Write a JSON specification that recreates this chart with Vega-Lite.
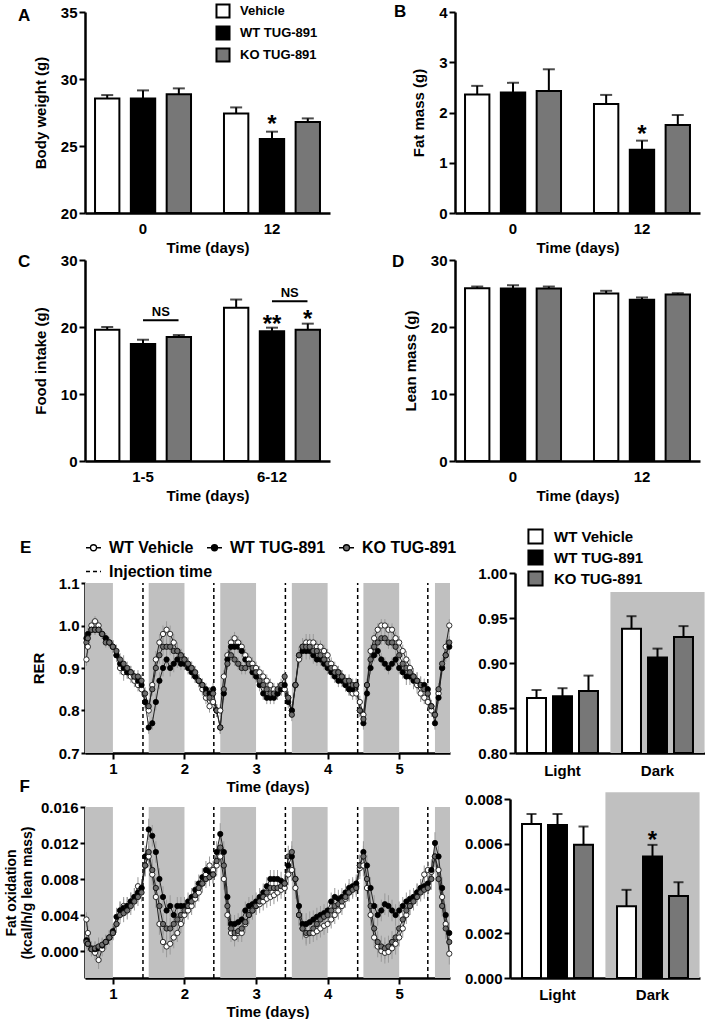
{
"$schema": "https://vega.github.io/schema/vega-lite/v6.json",
"background": "white",
"padding": {"left": 4, "top": 3, "right": 0, "bottom": 0},
"config": {
  "font": "Liberation Sans",
  "view": {"stroke": null},
  "axis": {"labelFontWeight": "bold", "titleFontWeight": "bold", "labelColor": "black", "titleColor": "black", "domainColor": "black", "tickColor": "black", "grid": false, "labelFontSize": 15, "titleFontSize": 15, "domainWidth": 2.5, "tickWidth": 2},
  "legend": {"labelFontWeight": "bold", "labelColor": "black", "padding": 0},
  "title": {"fontSize": 17, "fontWeight": "bold", "color": "black", "anchor": "start", "frame": "group"}
},
"datasets": {
  "A": [
    {"g": "0", "s": "Vehicle", "v": 28.55, "hi": 28.8},
    {"g": "0", "s": "WT TUG-891", "v": 28.55, "hi": 29.15},
    {"g": "0", "s": "KO TUG-891", "v": 28.87, "hi": 29.3},
    {"g": "12", "s": "Vehicle", "v": 27.43, "hi": 27.88},
    {"g": "12", "s": "WT TUG-891", "v": 25.52, "hi": 26.07},
    {"g": "12", "s": "KO TUG-891", "v": 26.8, "hi": 27.06}
  ],
  "B": [
    {"g": "0", "s": "Vehicle", "v": 2.36, "hi": 2.53},
    {"g": "0", "s": "WT TUG-891", "v": 2.4, "hi": 2.59},
    {"g": "0", "s": "KO TUG-891", "v": 2.43, "hi": 2.86},
    {"g": "12", "s": "Vehicle", "v": 2.17, "hi": 2.35},
    {"g": "12", "s": "WT TUG-891", "v": 1.26, "hi": 1.44},
    {"g": "12", "s": "KO TUG-891", "v": 1.75, "hi": 1.95}
  ],
  "C": [
    {"g": "1-5", "s": "Vehicle", "v": 19.6, "hi": 20.0},
    {"g": "1-5", "s": "WT TUG-891", "v": 17.47, "hi": 18.1},
    {"g": "1-5", "s": "KO TUG-891", "v": 18.5, "hi": 18.8},
    {"g": "6-12", "s": "Vehicle", "v": 22.86, "hi": 24.1},
    {"g": "6-12", "s": "WT TUG-891", "v": 19.37, "hi": 19.9},
    {"g": "6-12", "s": "KO TUG-891", "v": 19.6, "hi": 20.5}
  ],
  "D": [
    {"g": "0", "s": "Vehicle", "v": 25.79, "hi": 26.04},
    {"g": "0", "s": "WT TUG-891", "v": 25.74, "hi": 26.24},
    {"g": "0", "s": "KO TUG-891", "v": 25.74, "hi": 26.04},
    {"g": "12", "s": "Vehicle", "v": 25.0, "hi": 25.4},
    {"g": "12", "s": "WT TUG-891", "v": 24.06, "hi": 24.41},
    {"g": "12", "s": "KO TUG-891", "v": 24.85, "hi": 25.05}
  ],
  "Eb": [
    {"g": "Light", "s": "WT Vehicle", "v": 0.861, "hi": 0.870},
    {"g": "Light", "s": "WT TUG-891", "v": 0.863, "hi": 0.872},
    {"g": "Light", "s": "KO TUG-891", "v": 0.869, "hi": 0.886},
    {"g": "Dark", "s": "WT Vehicle", "v": 0.938, "hi": 0.952},
    {"g": "Dark", "s": "WT TUG-891", "v": 0.906, "hi": 0.916},
    {"g": "Dark", "s": "KO TUG-891", "v": 0.929, "hi": 0.941}
  ],
  "Fb": [
    {"g": "Light", "s": "WT Vehicle", "v": 0.00688, "hi": 0.00733},
    {"g": "Light", "s": "WT TUG-891", "v": 0.00684, "hi": 0.00733},
    {"g": "Light", "s": "KO TUG-891", "v": 0.00596, "hi": 0.00677},
    {"g": "Dark", "s": "WT Vehicle", "v": 0.00321, "hi": 0.00394},
    {"g": "Dark", "s": "WT TUG-891", "v": 0.00543, "hi": 0.00595},
    {"g": "Dark", "s": "KO TUG-891", "v": 0.00366, "hi": 0.00428}
  ],
  "bands": [
    {"x1": 0.61, "x2": 1.0}, {"x1": 1.5, "x2": 2.0}, {"x1": 2.5, "x2": 3.0},
    {"x1": 3.5, "x2": 4.0}, {"x1": 4.5, "x2": 5.0}, {"x1": 5.5, "x2": 5.71}
  ],
  "inj": [
    {"t": 1.42, "k": "Injection time"}, {"t": 2.41, "k": "Injection time"}, {"t": 3.41, "k": "Injection time"},
    {"t": 4.42, "k": "Injection time"}, {"t": 5.40, "k": "Injection time"}
  ],
  "rer": [
    {"t":0.63,"a":0.92,"b":0.97,"c":0.96,"e":0.015},
    {"t":0.65,"a":0.95,"b":0.98,"c":0.97,"e":0.015},
    {"t":0.70,"a":1.00,"b":0.99,"c":0.99,"e":0.012},
    {"t":0.75,"a":1.01,"b":0.99,"c":0.99,"e":0.012},
    {"t":0.80,"a":1.00,"b":0.99,"c":0.99,"e":0.012},
    {"t":0.85,"a":0.98,"b":0.98,"c":0.98,"e":0.012},
    {"t":0.90,"a":0.97,"b":0.97,"c":0.96,"e":0.012},
    {"t":0.95,"a":0.96,"b":0.96,"c":0.96,"e":0.012},
    {"t":1.00,"a":0.95,"b":0.95,"c":0.95,"e":0.015},
    {"t":1.05,"a":0.93,"b":0.93,"c":0.94,"e":0.015},
    {"t":1.10,"a":0.90,"b":0.91,"c":0.92,"e":0.015},
    {"t":1.15,"a":0.89,"b":0.90,"c":0.91,"e":0.02},
    {"t":1.20,"a":0.89,"b":0.89,"c":0.90,"e":0.015},
    {"t":1.25,"a":0.88,"b":0.89,"c":0.89,"e":0.015},
    {"t":1.30,"a":0.87,"b":0.88,"c":0.88,"e":0.015},
    {"t":1.35,"a":0.86,"b":0.87,"c":0.88,"e":0.015},
    {"t":1.40,"a":0.85,"b":0.86,"c":0.87,"e":0.015},
    {"t":1.45,"a":0.82,"b":0.82,"c":0.84,"e":0.015},
    {"t":1.50,"a":0.80,"b":0.76,"c":0.81,"e":0.015},
    {"t":1.55,"a":0.86,"b":0.77,"c":0.85,"e":0.015},
    {"t":1.60,"a":0.92,"b":0.82,"c":0.90,"e":0.02},
    {"t":1.65,"a":0.96,"b":0.87,"c":0.93,"e":0.02},
    {"t":1.70,"a":0.98,"b":0.90,"c":0.95,"e":0.02},
    {"t":1.75,"a":0.99,"b":0.92,"c":0.95,"e":0.02},
    {"t":1.80,"a":0.98,"b":0.90,"c":0.95,"e":0.02},
    {"t":1.85,"a":0.96,"b":0.91,"c":0.94,"e":0.02},
    {"t":1.90,"a":0.94,"b":0.92,"c":0.94,"e":0.02},
    {"t":1.95,"a":0.93,"b":0.91,"c":0.93,"e":0.015},
    {"t":2.00,"a":0.92,"b":0.91,"c":0.92,"e":0.015},
    {"t":2.05,"a":0.91,"b":0.90,"c":0.91,"e":0.015},
    {"t":2.10,"a":0.90,"b":0.89,"c":0.90,"e":0.015},
    {"t":2.15,"a":0.88,"b":0.88,"c":0.89,"e":0.015},
    {"t":2.20,"a":0.87,"b":0.87,"c":0.87,"e":0.015},
    {"t":2.25,"a":0.85,"b":0.86,"c":0.86,"e":0.015},
    {"t":2.30,"a":0.83,"b":0.85,"c":0.84,"e":0.015},
    {"t":2.35,"a":0.81,"b":0.84,"c":0.83,"e":0.015},
    {"t":2.40,"a":0.82,"b":0.85,"c":0.84,"e":0.015},
    {"t":2.45,"a":0.80,"b":0.80,"c":0.80,"e":0.015},
    {"t":2.50,"a":0.80,"b":0.76,"c":0.76,"e":0.015},
    {"t":2.55,"a":0.88,"b":0.84,"c":0.85,"e":0.015},
    {"t":2.60,"a":0.93,"b":0.92,"c":0.91,"e":0.015},
    {"t":2.65,"a":0.96,"b":0.95,"c":0.93,"e":0.015},
    {"t":2.70,"a":0.97,"b":0.95,"c":0.92,"e":0.015},
    {"t":2.75,"a":0.96,"b":0.95,"c":0.91,"e":0.015},
    {"t":2.80,"a":0.95,"b":0.94,"c":0.90,"e":0.015},
    {"t":2.85,"a":0.93,"b":0.92,"c":0.90,"e":0.015},
    {"t":2.90,"a":0.92,"b":0.91,"c":0.91,"e":0.015},
    {"t":2.95,"a":0.91,"b":0.89,"c":0.90,"e":0.015},
    {"t":3.00,"a":0.90,"b":0.88,"c":0.89,"e":0.015},
    {"t":3.05,"a":0.89,"b":0.86,"c":0.87,"e":0.015},
    {"t":3.10,"a":0.88,"b":0.84,"c":0.86,"e":0.015},
    {"t":3.15,"a":0.87,"b":0.83,"c":0.85,"e":0.015},
    {"t":3.20,"a":0.86,"b":0.83,"c":0.84,"e":0.015},
    {"t":3.25,"a":0.85,"b":0.83,"c":0.84,"e":0.015},
    {"t":3.30,"a":0.84,"b":0.84,"c":0.85,"e":0.015},
    {"t":3.35,"a":0.85,"b":0.85,"c":0.86,"e":0.015},
    {"t":3.40,"a":0.85,"b":0.86,"c":0.88,"e":0.015},
    {"t":3.45,"a":0.83,"b":0.82,"c":0.83,"e":0.015},
    {"t":3.50,"a":0.80,"b":0.80,"c":0.79,"e":0.015},
    {"t":3.55,"a":0.86,"b":0.86,"c":0.86,"e":0.015},
    {"t":3.60,"a":0.92,"b":0.93,"c":0.93,"e":0.02},
    {"t":3.65,"a":0.95,"b":0.94,"c":0.95,"e":0.02},
    {"t":3.70,"a":0.96,"b":0.94,"c":0.95,"e":0.02},
    {"t":3.75,"a":0.96,"b":0.94,"c":0.95,"e":0.02},
    {"t":3.80,"a":0.96,"b":0.93,"c":0.94,"e":0.02},
    {"t":3.85,"a":0.95,"b":0.92,"c":0.94,"e":0.015},
    {"t":3.90,"a":0.95,"b":0.92,"c":0.93,"e":0.015},
    {"t":3.95,"a":0.94,"b":0.91,"c":0.92,"e":0.015},
    {"t":4.00,"a":0.93,"b":0.90,"c":0.91,"e":0.015},
    {"t":4.05,"a":0.91,"b":0.89,"c":0.90,"e":0.015},
    {"t":4.10,"a":0.90,"b":0.88,"c":0.89,"e":0.015},
    {"t":4.15,"a":0.89,"b":0.87,"c":0.89,"e":0.015},
    {"t":4.20,"a":0.88,"b":0.87,"c":0.88,"e":0.015},
    {"t":4.25,"a":0.86,"b":0.86,"c":0.87,"e":0.015},
    {"t":4.30,"a":0.85,"b":0.85,"c":0.87,"e":0.015},
    {"t":4.35,"a":0.84,"b":0.85,"c":0.86,"e":0.015},
    {"t":4.40,"a":0.84,"b":0.86,"c":0.86,"e":0.015},
    {"t":4.45,"a":0.82,"b":0.80,"c":0.80,"e":0.015},
    {"t":4.50,"a":0.79,"b":0.77,"c":0.78,"e":0.015},
    {"t":4.55,"a":0.86,"b":0.84,"c":0.86,"e":0.015},
    {"t":4.60,"a":0.94,"b":0.90,"c":0.92,"e":0.015},
    {"t":4.65,"a":0.97,"b":0.93,"c":0.95,"e":0.015},
    {"t":4.70,"a":0.99,"b":0.94,"c":0.96,"e":0.015},
    {"t":4.75,"a":1.00,"b":0.92,"c":0.97,"e":0.015},
    {"t":4.80,"a":1.00,"b":0.91,"c":0.97,"e":0.015},
    {"t":4.85,"a":0.99,"b":0.90,"c":0.96,"e":0.015},
    {"t":4.90,"a":0.99,"b":0.91,"c":0.96,"e":0.015},
    {"t":4.95,"a":0.97,"b":0.92,"c":0.95,"e":0.015},
    {"t":5.00,"a":0.96,"b":0.90,"c":0.93,"e":0.015},
    {"t":5.05,"a":0.94,"b":0.89,"c":0.91,"e":0.015},
    {"t":5.10,"a":0.92,"b":0.88,"c":0.90,"e":0.02},
    {"t":5.15,"a":0.90,"b":0.88,"c":0.89,"e":0.02},
    {"t":5.20,"a":0.88,"b":0.87,"c":0.88,"e":0.02},
    {"t":5.25,"a":0.86,"b":0.87,"c":0.87,"e":0.02},
    {"t":5.30,"a":0.84,"b":0.86,"c":0.86,"e":0.02},
    {"t":5.35,"a":0.83,"b":0.86,"c":0.85,"e":0.015},
    {"t":5.40,"a":0.82,"b":0.85,"c":0.84,"e":0.015},
    {"t":5.45,"a":0.80,"b":0.81,"c":0.81,"e":0.015},
    {"t":5.50,"a":0.79,"b":0.77,"c":0.79,"e":0.015},
    {"t":5.55,"a":0.84,"b":0.83,"c":0.85,"e":0.015},
    {"t":5.60,"a":0.90,"b":0.90,"c":0.91,"e":0.015},
    {"t":5.65,"a":0.95,"b":0.93,"c":0.93,"e":0.015},
    {"t":5.70,"a":1.00,"b":0.95,"c":0.96,"e":0.015}
  ],
  "fo": [
    {"t":0.63,"a":0.0035,"b":0.0012,"c":0.0010,"e":0.0008},
    {"t":0.65,"a":0.0020,"b":0.0008,"c":0.0008,"e":0.0008},
    {"t":0.70,"a":0.0003,"b":0.0002,"c":0.0002,"e":0.0008},
    {"t":0.75,"a":-0.0002,"b":0.0002,"c":0.0003,"e":0.0008},
    {"t":0.80,"a":-0.0010,"b":0.0003,"c":0.0005,"e":0.0010},
    {"t":0.85,"a":0.0002,"b":0.0006,"c":0.0007,"e":0.0008},
    {"t":0.90,"a":0.0010,"b":0.0010,"c":0.0010,"e":0.0008},
    {"t":0.95,"a":0.0015,"b":0.0015,"c":0.0015,"e":0.0008},
    {"t":1.00,"a":0.0020,"b":0.0022,"c":0.0020,"e":0.0008},
    {"t":1.05,"a":0.0030,"b":0.0038,"c":0.0030,"e":0.0010},
    {"t":1.10,"a":0.0045,"b":0.0045,"c":0.0040,"e":0.0010},
    {"t":1.15,"a":0.0050,"b":0.0048,"c":0.0042,"e":0.0010},
    {"t":1.20,"a":0.0050,"b":0.0050,"c":0.0045,"e":0.0010},
    {"t":1.25,"a":0.0055,"b":0.0055,"c":0.0050,"e":0.0010},
    {"t":1.30,"a":0.0060,"b":0.0060,"c":0.0055,"e":0.0010},
    {"t":1.35,"a":0.0072,"b":0.0065,"c":0.0060,"e":0.0010},
    {"t":1.40,"a":0.0070,"b":0.0070,"c":0.0065,"e":0.0010},
    {"t":1.45,"a":0.0095,"b":0.0105,"c":0.0095,"e":0.0012},
    {"t":1.50,"a":0.0105,"b":0.0135,"c":0.0110,"e":0.0012},
    {"t":1.55,"a":0.0085,"b":0.0128,"c":0.0090,"e":0.0012},
    {"t":1.60,"a":0.0060,"b":0.0110,"c":0.0070,"e":0.0012},
    {"t":1.65,"a":0.0030,"b":0.0080,"c":0.0050,"e":0.0012},
    {"t":1.70,"a":0.0010,"b":0.0060,"c":0.0030,"e":0.0012},
    {"t":1.75,"a":0.0005,"b":0.0045,"c":0.0025,"e":0.0012},
    {"t":1.80,"a":0.0008,"b":0.0050,"c":0.0025,"e":0.0012},
    {"t":1.85,"a":0.0015,"b":0.0040,"c":0.0030,"e":0.0012},
    {"t":1.90,"a":0.0020,"b":0.0050,"c":0.0035,"e":0.0010},
    {"t":1.95,"a":0.0030,"b":0.0050,"c":0.0040,"e":0.0010},
    {"t":2.00,"a":0.0040,"b":0.0050,"c":0.0045,"e":0.0010},
    {"t":2.05,"a":0.0045,"b":0.0055,"c":0.0050,"e":0.0010},
    {"t":2.10,"a":0.0050,"b":0.0060,"c":0.0055,"e":0.0010},
    {"t":2.15,"a":0.0058,"b":0.0068,"c":0.0062,"e":0.0010},
    {"t":2.20,"a":0.0065,"b":0.0075,"c":0.0070,"e":0.0010},
    {"t":2.25,"a":0.0075,"b":0.0082,"c":0.0075,"e":0.0010},
    {"t":2.30,"a":0.0085,"b":0.0090,"c":0.0080,"e":0.0010},
    {"t":2.35,"a":0.0095,"b":0.0088,"c":0.0082,"e":0.0010},
    {"t":2.40,"a":0.0090,"b":0.0085,"c":0.0085,"e":0.0010},
    {"t":2.45,"a":0.0095,"b":0.0110,"c":0.0100,"e":0.0012},
    {"t":2.50,"a":0.0105,"b":0.0130,"c":0.0115,"e":0.0012},
    {"t":2.55,"a":0.0080,"b":0.0110,"c":0.0095,"e":0.0012},
    {"t":2.60,"a":0.0040,"b":0.0060,"c":0.0050,"e":0.0012},
    {"t":2.65,"a":0.0020,"b":0.0030,"c":0.0025,"e":0.0010},
    {"t":2.70,"a":0.0015,"b":0.0030,"c":0.0020,"e":0.0010},
    {"t":2.75,"a":0.0020,"b":0.0032,"c":0.0022,"e":0.0010},
    {"t":2.80,"a":0.0020,"b":0.0035,"c":0.0025,"e":0.0010},
    {"t":2.85,"a":0.0030,"b":0.0045,"c":0.0032,"e":0.0010},
    {"t":2.90,"a":0.0040,"b":0.0050,"c":0.0040,"e":0.0010},
    {"t":2.95,"a":0.0045,"b":0.0052,"c":0.0045,"e":0.0010},
    {"t":3.00,"a":0.0050,"b":0.0055,"c":0.0050,"e":0.0010},
    {"t":3.05,"a":0.0052,"b":0.0060,"c":0.0055,"e":0.0010},
    {"t":3.10,"a":0.0055,"b":0.0065,"c":0.0060,"e":0.0010},
    {"t":3.15,"a":0.0058,"b":0.0072,"c":0.0065,"e":0.0010},
    {"t":3.20,"a":0.0060,"b":0.0080,"c":0.0070,"e":0.0010},
    {"t":3.25,"a":0.0062,"b":0.0080,"c":0.0070,"e":0.0010},
    {"t":3.30,"a":0.0065,"b":0.0080,"c":0.0070,"e":0.0010},
    {"t":3.35,"a":0.0068,"b":0.0078,"c":0.0072,"e":0.0010},
    {"t":3.40,"a":0.0070,"b":0.0075,"c":0.0075,"e":0.0010},
    {"t":3.45,"a":0.0085,"b":0.0095,"c":0.0105,"e":0.0012},
    {"t":3.50,"a":0.0090,"b":0.0105,"c":0.0110,"e":0.0012},
    {"t":3.55,"a":0.0070,"b":0.0080,"c":0.0080,"e":0.0012},
    {"t":3.60,"a":0.0040,"b":0.0050,"c":0.0040,"e":0.0012},
    {"t":3.65,"a":0.0025,"b":0.0030,"c":0.0025,"e":0.0012},
    {"t":3.70,"a":0.0018,"b":0.0030,"c":0.0020,"e":0.0012},
    {"t":3.75,"a":0.0020,"b":0.0032,"c":0.0020,"e":0.0012},
    {"t":3.80,"a":0.0020,"b":0.0035,"c":0.0025,"e":0.0010},
    {"t":3.85,"a":0.0022,"b":0.0038,"c":0.0030,"e":0.0010},
    {"t":3.90,"a":0.0025,"b":0.0040,"c":0.0035,"e":0.0010},
    {"t":3.95,"a":0.0028,"b":0.0042,"c":0.0038,"e":0.0010},
    {"t":4.00,"a":0.0030,"b":0.0045,"c":0.0040,"e":0.0010},
    {"t":4.05,"a":0.0035,"b":0.0055,"c":0.0045,"e":0.0010},
    {"t":4.10,"a":0.0040,"b":0.0060,"c":0.0050,"e":0.0010},
    {"t":4.15,"a":0.0045,"b":0.0058,"c":0.0052,"e":0.0010},
    {"t":4.20,"a":0.0050,"b":0.0060,"c":0.0055,"e":0.0010},
    {"t":4.25,"a":0.0058,"b":0.0065,"c":0.0060,"e":0.0010},
    {"t":4.30,"a":0.0065,"b":0.0070,"c":0.0065,"e":0.0010},
    {"t":4.35,"a":0.0070,"b":0.0072,"c":0.0068,"e":0.0010},
    {"t":4.40,"a":0.0072,"b":0.0075,"c":0.0070,"e":0.0010},
    {"t":4.45,"a":0.0092,"b":0.0095,"c":0.0095,"e":0.0012},
    {"t":4.50,"a":0.0095,"b":0.0110,"c":0.0105,"e":0.0012},
    {"t":4.55,"a":0.0070,"b":0.0095,"c":0.0080,"e":0.0012},
    {"t":4.60,"a":0.0040,"b":0.0070,"c":0.0050,"e":0.0012},
    {"t":4.65,"a":0.0015,"b":0.0050,"c":0.0025,"e":0.0012},
    {"t":4.70,"a":0.0005,"b":0.0040,"c":0.0010,"e":0.0012},
    {"t":4.75,"a":0.0000,"b":0.0045,"c":0.0005,"e":0.0012},
    {"t":4.80,"a":-0.0002,"b":0.0052,"c":0.0003,"e":0.0012},
    {"t":4.85,"a":-0.0001,"b":0.0050,"c":0.0005,"e":0.0012},
    {"t":4.90,"a":0.0003,"b":0.0045,"c":0.0010,"e":0.0012},
    {"t":4.95,"a":0.0008,"b":0.0040,"c":0.0015,"e":0.0012},
    {"t":5.00,"a":0.0015,"b":0.0045,"c":0.0025,"e":0.0010},
    {"t":5.05,"a":0.0025,"b":0.0050,"c":0.0035,"e":0.0010},
    {"t":5.10,"a":0.0040,"b":0.0055,"c":0.0045,"e":0.0010},
    {"t":5.15,"a":0.0050,"b":0.0058,"c":0.0050,"e":0.0010},
    {"t":5.20,"a":0.0060,"b":0.0060,"c":0.0055,"e":0.0010},
    {"t":5.25,"a":0.0065,"b":0.0065,"c":0.0060,"e":0.0010},
    {"t":5.30,"a":0.0070,"b":0.0070,"c":0.0065,"e":0.0010},
    {"t":5.35,"a":0.0085,"b":0.0072,"c":0.0068,"e":0.0010},
    {"t":5.40,"a":0.0090,"b":0.0075,"c":0.0070,"e":0.0010},
    {"t":5.45,"a":0.0088,"b":0.0090,"c":0.0080,"e":0.0012},
    {"t":5.50,"a":0.0105,"b":0.0120,"c":0.0105,"e":0.0012},
    {"t":5.55,"a":0.0090,"b":0.0105,"c":0.0080,"e":0.0012},
    {"t":5.60,"a":0.0060,"b":0.0070,"c":0.0050,"e":0.0012},
    {"t":5.65,"a":0.0030,"b":0.0040,"c":0.0025,"e":0.0012},
    {"t":5.70,"a":-0.0003,"b":0.0020,"c":0.0010,"e":0.0012}
  ]
},
"resolve": {"scale": {"x": "independent", "y": "independent", "xOffset": "independent", "fill": "independent", "strokeDash": "independent"}, "legend": {"fill": "independent", "strokeDash": "independent"}},
"spacing": 25,
"vconcat": [
 {
  "spacing": -2,
  "resolve": {"scale": {"x": "independent", "y": "independent", "xOffset": "independent", "fill": "independent"}, "legend": {"fill": "independent"}},
  "vconcat": [
   {
    "spacing": 64,
    "resolve": {"scale": {"x": "independent", "y": "independent", "xOffset": "independent", "fill": "independent"}, "legend": {"fill": "independent"}},
    "hconcat": [
     {
      "width": 245, "height": 201,
      "title": {"text": "A", "dx": -67, "dy": 26},
      "layer": [
       {"data": {"name": "A"}, "mark": {"type": "bar", "stroke": "black", "strokeWidth": 2},
        "encoding": {
         "x": {"field": "g", "type": "nominal", "scale": {"domain": ["0", "12"], "paddingInner": 0.2, "paddingOuter": 0.05}, "axis": {"title": "Time (days)", "labelAngle": 0, "ticks": false, "labelPadding": 8, "titlePadding": 4}},
         "xOffset": {"field": "s", "type": "nominal", "scale": {"domain": ["Vehicle", "WT TUG-891", "KO TUG-891"], "paddingInner": 0.32, "paddingOuter": 0.1}},
         "y": {"field": "v", "type": "quantitative", "scale": {"domain": [20, 35], "nice": false, "zero": false}, "axis": {"values": [20, 25, 30, 35], "format": "d", "title": "Body weight (g)", "tickSize": 6, "labelPadding": 2, "titlePadding": 12}},
         "y2": {"datum": 20},
         "fill": {"field": "s", "type": "nominal", "scale": {"domain": ["Vehicle", "WT TUG-891", "KO TUG-891"], "range": ["white", "black", "#777777"]},
          "legend": {"title": null, "orient": "none", "legendX": 130, "legendY": -9, "symbolType": "square", "symbolSize": 170, "symbolStrokeColor": "black", "symbolStrokeWidth": 2, "labelFontSize": 13, "labelFontWeight": "bold", "labelOffset": 9, "rowPadding": 0}}
        }},
       {"data": {"name": "A"}, "mark": {"type": "rule", "color": "black", "strokeWidth": 2},
        "encoding": {"x": {"field": "g", "type": "nominal"}, "xOffset": {"field": "s", "type": "nominal"}, "y": {"field": "v", "type": "quantitative"}, "y2": {"field": "hi"}}},
       {"data": {"name": "A"}, "mark": {"type": "tick", "color": "black", "thickness": 2, "size": 12, "orient": "horizontal"},
        "encoding": {"x": {"field": "g", "type": "nominal"}, "xOffset": {"field": "s", "type": "nominal"}, "y": {"field": "hi", "type": "quantitative"}}},
       {"data": {"values": [{"g": "12", "s": "WT TUG-891", "t": "*", "v": 27.1}]}, "mark": {"type": "text", "fontSize": 24, "fontWeight": "bold", "baseline": "alphabetic", "dy": 14, "color": "black"},
        "encoding": {"x": {"field": "g", "type": "nominal"}, "xOffset": {"field": "s", "type": "nominal"}, "y": {"field": "v", "type": "quantitative"}, "text": {"field": "t"}}}
      ]
     },
     {
      "width": 245, "height": 201,
      "title": {"text": "B", "dx": -61, "dy": 20},
      "layer": [
       {"data": {"name": "B"}, "mark": {"type": "bar", "stroke": "black", "strokeWidth": 2},
        "encoding": {
         "x": {"field": "g", "type": "nominal", "scale": {"domain": ["0", "12"], "paddingInner": 0.2, "paddingOuter": 0.05}, "axis": {"title": "Time (days)", "labelAngle": 0, "ticks": false, "labelPadding": 8, "titlePadding": 4}},
         "xOffset": {"field": "s", "type": "nominal", "scale": {"domain": ["Vehicle", "WT TUG-891", "KO TUG-891"], "paddingInner": 0.32, "paddingOuter": 0.1}},
         "y": {"field": "v", "type": "quantitative", "scale": {"domain": [0, 4], "nice": false}, "axis": {"values": [0, 1, 2, 3, 4], "format": "d", "title": "Fat mass (g)", "tickSize": 6, "labelPadding": 2, "titlePadding": 12}},
         "y2": {"datum": 0},
         "fill": {"field": "s", "type": "nominal", "scale": {"domain": ["Vehicle", "WT TUG-891", "KO TUG-891"], "range": ["white", "black", "#777777"]}, "legend": null}
        }},
       {"data": {"name": "B"}, "mark": {"type": "rule", "color": "black", "strokeWidth": 2},
        "encoding": {"x": {"field": "g", "type": "nominal"}, "xOffset": {"field": "s", "type": "nominal"}, "y": {"field": "v", "type": "quantitative"}, "y2": {"field": "hi"}}},
       {"data": {"name": "B"}, "mark": {"type": "tick", "color": "black", "thickness": 2, "size": 12, "orient": "horizontal"},
        "encoding": {"x": {"field": "g", "type": "nominal"}, "xOffset": {"field": "s", "type": "nominal"}, "y": {"field": "hi", "type": "quantitative"}}},
       {"data": {"values": [{"g": "12", "s": "WT TUG-891", "t": "*", "v": 1.69}]}, "mark": {"type": "text", "fontSize": 24, "fontWeight": "bold", "baseline": "alphabetic", "dy": 14, "color": "black"},
        "encoding": {"x": {"field": "g", "type": "nominal"}, "xOffset": {"field": "s", "type": "nominal"}, "y": {"field": "v", "type": "quantitative"}, "text": {"field": "t"}}}
      ]
     }
    ]
   },
   {
    "spacing": 62,
    "resolve": {"scale": {"x": "independent", "y": "independent", "xOffset": "independent", "fill": "independent"}, "legend": {"fill": "independent"}},
    "hconcat": [
     {
      "width": 245, "height": 201,
      "title": {"text": "C", "dx": -67, "dy": 22},
      "layer": [
       {"data": {"name": "C"}, "mark": {"type": "bar", "stroke": "black", "strokeWidth": 2},
        "encoding": {
         "x": {"field": "g", "type": "nominal", "scale": {"domain": ["1-5", "6-12"], "paddingInner": 0.2, "paddingOuter": 0.05}, "axis": {"title": "Time (days)", "labelAngle": 0, "ticks": false, "labelPadding": 8, "titlePadding": 4}},
         "xOffset": {"field": "s", "type": "nominal", "scale": {"domain": ["Vehicle", "WT TUG-891", "KO TUG-891"], "paddingInner": 0.32, "paddingOuter": 0.1}},
         "y": {"field": "v", "type": "quantitative", "scale": {"domain": [0, 30], "nice": false}, "axis": {"values": [0, 10, 20, 30], "format": "d", "title": "Food intake (g)", "tickSize": 6, "labelPadding": 2, "titlePadding": 12}},
         "y2": {"datum": 0},
         "fill": {"field": "s", "type": "nominal", "scale": {"domain": ["Vehicle", "WT TUG-891", "KO TUG-891"], "range": ["white", "black", "#777777"]}, "legend": null}
        }},
       {"data": {"name": "C"}, "mark": {"type": "rule", "color": "black", "strokeWidth": 2},
        "encoding": {"x": {"field": "g", "type": "nominal"}, "xOffset": {"field": "s", "type": "nominal"}, "y": {"field": "v", "type": "quantitative"}, "y2": {"field": "hi"}}},
       {"data": {"name": "C"}, "mark": {"type": "tick", "color": "black", "thickness": 2, "size": 12, "orient": "horizontal"},
        "encoding": {"x": {"field": "g", "type": "nominal"}, "xOffset": {"field": "s", "type": "nominal"}, "y": {"field": "hi", "type": "quantitative"}}},
       {"data": {"values": [{"g": "6-12", "s": "WT TUG-891", "t": "**", "v": 21.4}, {"g": "6-12", "s": "KO TUG-891", "t": "*", "v": 22.1}]}, "mark": {"type": "text", "fontSize": 24, "fontWeight": "bold", "baseline": "alphabetic", "dy": 14, "color": "black"},
        "encoding": {"x": {"field": "g", "type": "nominal"}, "xOffset": {"field": "s", "type": "nominal"}, "y": {"field": "v", "type": "quantitative"}, "text": {"field": "t"}}},
       {"data": {"values": [{"g": "1-5", "s": "WT TUG-891", "t": "NS", "v": 22.4}, {"g": "6-12", "s": "WT TUG-891", "t": "NS", "v": 25.15}]}, "mark": {"type": "text", "fontSize": 13, "fontWeight": "bold", "baseline": "alphabetic", "dy": 5, "dx": 17.75, "color": "black"},
        "encoding": {"x": {"field": "g", "type": "nominal"}, "xOffset": {"field": "s", "type": "nominal"}, "y": {"field": "v", "type": "quantitative"}, "text": {"field": "t"}}},
       {"data": {"values": [{"g": "1-5", "v": 21.0}, {"g": "6-12", "v": 23.85}]}, "mark": {"type": "rule", "color": "black", "strokeWidth": 2, "x2Offset": 35.5},
        "encoding": {"x": {"field": "g", "type": "nominal"}, "x2": {"field": "g"}, "y": {"field": "v", "type": "quantitative"}}}
      ]
     },
     {
      "width": 245, "height": 201,
      "title": {"text": "D", "dx": -63, "dy": 22},
      "layer": [
       {"data": {"name": "D"}, "mark": {"type": "bar", "stroke": "black", "strokeWidth": 2},
        "encoding": {
         "x": {"field": "g", "type": "nominal", "scale": {"domain": ["0", "12"], "paddingInner": 0.2, "paddingOuter": 0.05}, "axis": {"title": "Time (days)", "labelAngle": 0, "ticks": false, "labelPadding": 8, "titlePadding": 4}},
         "xOffset": {"field": "s", "type": "nominal", "scale": {"domain": ["Vehicle", "WT TUG-891", "KO TUG-891"], "paddingInner": 0.32, "paddingOuter": 0.1}},
         "y": {"field": "v", "type": "quantitative", "scale": {"domain": [0, 30], "nice": false}, "axis": {"values": [0, 10, 20, 30], "format": "d", "title": "Lean mass (g)", "tickSize": 6, "labelPadding": 2, "titlePadding": 12}},
         "y2": {"datum": 0},
         "fill": {"field": "s", "type": "nominal", "scale": {"domain": ["Vehicle", "WT TUG-891", "KO TUG-891"], "range": ["white", "black", "#777777"]}, "legend": null}
        }},
       {"data": {"name": "D"}, "mark": {"type": "rule", "color": "black", "strokeWidth": 2},
        "encoding": {"x": {"field": "g", "type": "nominal"}, "xOffset": {"field": "s", "type": "nominal"}, "y": {"field": "v", "type": "quantitative"}, "y2": {"field": "hi"}}},
       {"data": {"name": "D"}, "mark": {"type": "tick", "color": "black", "thickness": 2, "size": 12, "orient": "horizontal"},
        "encoding": {"x": {"field": "g", "type": "nominal"}, "xOffset": {"field": "s", "type": "nominal"}, "y": {"field": "hi", "type": "quantitative"}}}
      ]
     }
    ]
   }
  ]
 },
 {
  "spacing": -16,
  "resolve": {"scale": {"x": "independent", "y": "independent", "xOffset": "independent", "fill": "independent", "strokeDash": "independent"}, "legend": {"fill": "independent", "strokeDash": "independent"}},
  "vconcat": [
   {
    "spacing": 20,
    "resolve": {"scale": {"x": "independent", "y": "independent", "xOffset": "independent", "fill": "independent", "strokeDash": "independent"}, "legend": {"fill": "independent", "strokeDash": "independent"}},
    "hconcat": [
     {
      "width": 365, "height": 180,
      "title": {"text": "E", "dx": -65, "dy": 22},
      "layer": [
       {"data": {"name": "bands"}, "mark": {"type": "rect", "color": "#c0c0c0"},
        "encoding": {
         "x": {"field": "x1", "type": "quantitative", "scale": {"domain": [0.61, 5.71], "nice": false, "zero": false}, "axis": {"values": [1, 2, 3, 4, 5], "format": "d", "title": "Time (days)", "tickSize": 6, "labelPadding": 2, "titlePadding": 3}},
         "x2": {"field": "x2"},
         "y": {"datum": 0.7, "type": "quantitative", "scale": {"domain": [0.7, 1.1], "nice": false, "zero": false, "range": [180, 10]}, "axis": {"values": [0.7, 0.8, 0.9, 1.0, 1.1], "format": ".1f", "title": "RER", "tickSize": 4, "labelPadding": 2, "titlePadding": 12}},
         "y2": {"datum": 1.1}
        }},
       {"data": {"name": "inj"}, "mark": {"type": "rule", "color": "black", "strokeWidth": 1.5},
        "encoding": {"x": {"field": "t", "type": "quantitative", "title": "Time (days)"}, "y": {"datum": 0.7, "type": "quantitative", "title": "RER"}, "y2": {"datum": 1.1},
         "strokeDash": {"field": "k", "type": "nominal", "scale": {"range": [[4, 3]]},
          "legend": {"title": null, "orient": "none", "legendX": 0, "legendY": -10, "symbolType": "stroke", "symbolSize": 225, "symbolStrokeColor": "black", "symbolStrokeWidth": 1.5, "labelFontSize": 16, "labelFontWeight": "bold", "labelOffset": 7}}}},
       {"data": {"name": "rer"}, "mark": {"type": "errorbar", "color": "#9a9a9a", "thickness": 1},
        "encoding": {"x": {"field": "t", "type": "quantitative", "title": "Time (days)"}, "y": {"field": "c", "type": "quantitative", "title": "RER"}, "yError": {"field": "e"}}},
       {"data": {"name": "rer"}, "mark": {"type": "errorbar", "color": "#9a9a9a", "thickness": 1},
        "encoding": {"x": {"field": "t", "type": "quantitative", "title": "Time (days)"}, "y": {"field": "a", "type": "quantitative", "title": "RER"}, "yError": {"field": "e"}}},
       {"data": {"name": "rer"}, "mark": {"type": "errorbar", "color": "#9a9a9a", "thickness": 1},
        "encoding": {"x": {"field": "t", "type": "quantitative", "title": "Time (days)"}, "y": {"field": "b", "type": "quantitative", "title": "RER"}, "yError": {"field": "e"}}},
       {"data": {"name": "rer"}, "transform": [{"fold": ["a", "b", "c"], "as": ["key", "value"]}], "mark": {"type": "line", "strokeWidth": 1, "color": "#222222"},
        "encoding": {"x": {"field": "t", "type": "quantitative", "title": "Time (days)"}, "y": {"field": "value", "type": "quantitative", "title": "RER"}, "detail": {"field": "key", "type": "nominal"}}},
       {"data": {"name": "rer"}, "transform": [{"fold": ["a", "b", "c"], "as": ["key", "value"]}], "mark": {"type": "point", "shape": "circle", "filled": true, "size": 28, "stroke": "black", "strokeWidth": 0.8, "opacity": 1},
        "encoding": {"x": {"field": "t", "type": "quantitative", "title": "Time (days)"}, "y": {"field": "value", "type": "quantitative", "title": "RER"},
         "fill": {"field": "key", "type": "nominal", "scale": {"domain": ["a", "b", "c"], "range": ["white", "black", "#6e6e6e"]},
          "legend": {"title": null, "orient": "none", "legendX": 0, "legendY": -34, "direction": "horizontal", "symbolType": "M-1,0L-0.4,0M0.4,0L1,0M-0.4,0A0.4,0.4,0,1,1,0.4,0A0.4,0.4,0,1,1,-0.4,0Z", "symbolSize": 225, "symbolStrokeColor": "black", "symbolStrokeWidth": 1.3, "labelFontSize": 16, "labelFontWeight": "bold", "labelOffset": 7, "columnPadding": 10, "labelLimit": 200, "labelExpr": "datum.label == 'a' ? 'WT Vehicle' : datum.label == 'b' ? 'WT TUG-891' : 'KO TUG-891'"}}}}
      ]
     },
     {
      "width": 190, "height": 180,
      "layer": [
       {"data": {"values": [{"g": "Dark"}]}, "mark": {"type": "bar", "color": "#c0c0c0", "width": {"band": 1.18}},
        "encoding": {
         "x": {"field": "g", "type": "nominal", "scale": {"domain": ["Light", "Dark"], "paddingInner": 0.16, "paddingOuter": 0.08}, "axis": {"title": null, "labelAngle": 0, "ticks": false, "labelPadding": 10}},
         "y": {"datum": 0.979, "type": "quantitative", "scale": {"domain": [0.8, 1.0], "nice": false, "zero": false}, "axis": {"values": [0.8, 0.85, 0.9, 0.95, 1.0], "format": ".2f", "title": null, "tickSize": 6, "labelPadding": 2}},
         "y2": {"datum": 0.8}
        }},
       {"data": {"name": "Eb"}, "mark": {"type": "bar", "stroke": "black", "strokeWidth": 2},
        "encoding": {
         "x": {"field": "g", "type": "nominal"},
         "xOffset": {"field": "s", "type": "nominal", "scale": {"domain": ["WT Vehicle", "WT TUG-891", "KO TUG-891"], "paddingInner": 0.27, "paddingOuter": 0.17}},
         "y": {"field": "v", "type": "quantitative"},
         "y2": {"datum": 0.8},
         "fill": {"field": "s", "type": "nominal", "scale": {"domain": ["WT Vehicle", "WT TUG-891", "KO TUG-891"], "range": ["white", "black", "#777777"]},
          "legend": {"title": null, "orient": "none", "legendX": 12, "legendY": -45, "symbolType": "square", "symbolSize": 200, "symbolStrokeColor": "black", "symbolStrokeWidth": 2, "labelFontSize": 15, "labelFontWeight": "bold", "labelOffset": 10, "rowPadding": -2}}
        }},
       {"data": {"name": "Eb"}, "mark": {"type": "rule", "color": "black", "strokeWidth": 2},
        "encoding": {"x": {"field": "g", "type": "nominal"}, "xOffset": {"field": "s", "type": "nominal"}, "y": {"field": "v", "type": "quantitative"}, "y2": {"field": "hi"}}},
       {"data": {"name": "Eb"}, "mark": {"type": "tick", "color": "black", "thickness": 2, "size": 10, "orient": "horizontal"},
        "encoding": {"x": {"field": "g", "type": "nominal"}, "xOffset": {"field": "s", "type": "nominal"}, "y": {"field": "hi", "type": "quantitative"}}}
      ]
     }
    ]
   },
   {
    "spacing": 10,
    "resolve": {"scale": {"x": "independent", "y": "independent", "xOffset": "independent", "fill": "independent"}, "legend": {"fill": "independent"}},
    "hconcat": [
     {
      "width": 365, "height": 179,
      "title": {"text": "F", "frame": "bounds", "anchor": "start", "align": "left", "dx": 15, "dy": 1},
      "layer": [
       {"data": {"name": "bands"}, "mark": {"type": "rect", "color": "#c0c0c0"},
        "encoding": {
         "x": {"field": "x1", "type": "quantitative", "scale": {"domain": [0.61, 5.71], "nice": false, "zero": false}, "axis": {"values": [1, 2, 3, 4, 5], "format": "d", "title": "Time (days)", "tickSize": 6, "labelPadding": 2, "titlePadding": 3}},
         "x2": {"field": "x2"},
         "y": {"datum": -0.003, "type": "quantitative", "scale": {"domain": [-0.003, 0.016], "nice": false, "zero": false, "range": [179, 8]}, "axis": {"values": [0, 0.004, 0.008, 0.012, 0.016], "format": ".3f", "title": ["Fat oxidation", "(kcal/h/g lean mass)"], "tickSize": 5, "titleFontSize": 14, "labelPadding": 2, "titlePadding": 6}},
         "y2": {"datum": 0.016}
        }},
       {"data": {"name": "inj"}, "mark": {"type": "rule", "color": "black", "strokeWidth": 1.5, "strokeDash": [4, 3]},
        "encoding": {"x": {"field": "t", "type": "quantitative", "title": "Time (days)"}, "y": {"datum": -0.003, "type": "quantitative", "title": ["Fat oxidation", "(kcal/h/g lean mass)"]}, "y2": {"datum": 0.016}}},
       {"data": {"name": "fo"}, "mark": {"type": "errorbar", "color": "#9a9a9a", "thickness": 1},
        "encoding": {"x": {"field": "t", "type": "quantitative", "title": "Time (days)"}, "y": {"field": "c", "type": "quantitative", "title": ["Fat oxidation", "(kcal/h/g lean mass)"]}, "yError": {"field": "e"}}},
       {"data": {"name": "fo"}, "mark": {"type": "errorbar", "color": "#9a9a9a", "thickness": 1},
        "encoding": {"x": {"field": "t", "type": "quantitative", "title": "Time (days)"}, "y": {"field": "a", "type": "quantitative", "title": ["Fat oxidation", "(kcal/h/g lean mass)"]}, "yError": {"field": "e"}}},
       {"data": {"name": "fo"}, "mark": {"type": "errorbar", "color": "#9a9a9a", "thickness": 1},
        "encoding": {"x": {"field": "t", "type": "quantitative", "title": "Time (days)"}, "y": {"field": "b", "type": "quantitative", "title": ["Fat oxidation", "(kcal/h/g lean mass)"]}, "yError": {"field": "e"}}},
       {"data": {"name": "fo"}, "transform": [{"fold": ["a", "b", "c"], "as": ["key", "value"]}], "mark": {"type": "line", "strokeWidth": 1, "color": "#222222"},
        "encoding": {"x": {"field": "t", "type": "quantitative", "title": "Time (days)"}, "y": {"field": "value", "type": "quantitative", "title": ["Fat oxidation", "(kcal/h/g lean mass)"]}, "detail": {"field": "key", "type": "nominal"}}},
       {"data": {"name": "fo"}, "transform": [{"fold": ["a", "b", "c"], "as": ["key", "value"]}], "mark": {"type": "point", "shape": "circle", "filled": true, "size": 28, "stroke": "black", "strokeWidth": 0.8, "opacity": 1},
        "encoding": {"x": {"field": "t", "type": "quantitative", "title": "Time (days)"}, "y": {"field": "value", "type": "quantitative", "title": ["Fat oxidation", "(kcal/h/g lean mass)"]},
         "fill": {"field": "key", "type": "nominal", "scale": {"domain": ["a", "b", "c"], "range": ["white", "black", "#6e6e6e"]}, "legend": null}}}
      ]
     },
     {
      "width": 190, "height": 179,
      "layer": [
       {"data": {"values": [{"g": "Dark"}]}, "mark": {"type": "bar", "color": "#c0c0c0", "width": {"band": 1.18}},
        "encoding": {
         "x": {"field": "g", "type": "nominal", "scale": {"domain": ["Light", "Dark"], "paddingInner": 0.16, "paddingOuter": 0.08}, "axis": {"title": null, "labelAngle": 0, "ticks": false, "labelPadding": 9}},
         "y": {"datum": 0.0083, "type": "quantitative", "scale": {"domain": [0, 0.008], "nice": false}, "axis": {"values": [0, 0.002, 0.004, 0.006, 0.008], "format": ".3f", "title": null, "tickSize": 6, "labelPadding": 2}},
         "y2": {"datum": 0}
        }},
       {"data": {"name": "Fb"}, "mark": {"type": "bar", "stroke": "black", "strokeWidth": 2},
        "encoding": {
         "x": {"field": "g", "type": "nominal"},
         "xOffset": {"field": "s", "type": "nominal", "scale": {"domain": ["WT Vehicle", "WT TUG-891", "KO TUG-891"], "paddingInner": 0.27, "paddingOuter": 0.17}},
         "y": {"field": "v", "type": "quantitative"},
         "y2": {"datum": 0},
         "fill": {"field": "s", "type": "nominal", "scale": {"domain": ["WT Vehicle", "WT TUG-891", "KO TUG-891"], "range": ["white", "black", "#777777"]}, "legend": null}
        }},
       {"data": {"name": "Fb"}, "mark": {"type": "rule", "color": "black", "strokeWidth": 2},
        "encoding": {"x": {"field": "g", "type": "nominal"}, "xOffset": {"field": "s", "type": "nominal"}, "y": {"field": "v", "type": "quantitative"}, "y2": {"field": "hi"}}},
       {"data": {"name": "Fb"}, "mark": {"type": "tick", "color": "black", "thickness": 2, "size": 10, "orient": "horizontal"},
        "encoding": {"x": {"field": "g", "type": "nominal"}, "xOffset": {"field": "s", "type": "nominal"}, "y": {"field": "hi", "type": "quantitative"}}},
       {"data": {"values": [{"g": "Dark", "s": "WT TUG-891", "t": "*", "v": 0.00645}]}, "mark": {"type": "text", "fontSize": 24, "fontWeight": "bold", "baseline": "alphabetic", "dy": 14, "color": "black"},
        "encoding": {"x": {"field": "g", "type": "nominal"}, "xOffset": {"field": "s", "type": "nominal"}, "y": {"field": "v", "type": "quantitative"}, "text": {"field": "t"}}}
      ]
     }
    ]
   }
  ]
 }
]
}
